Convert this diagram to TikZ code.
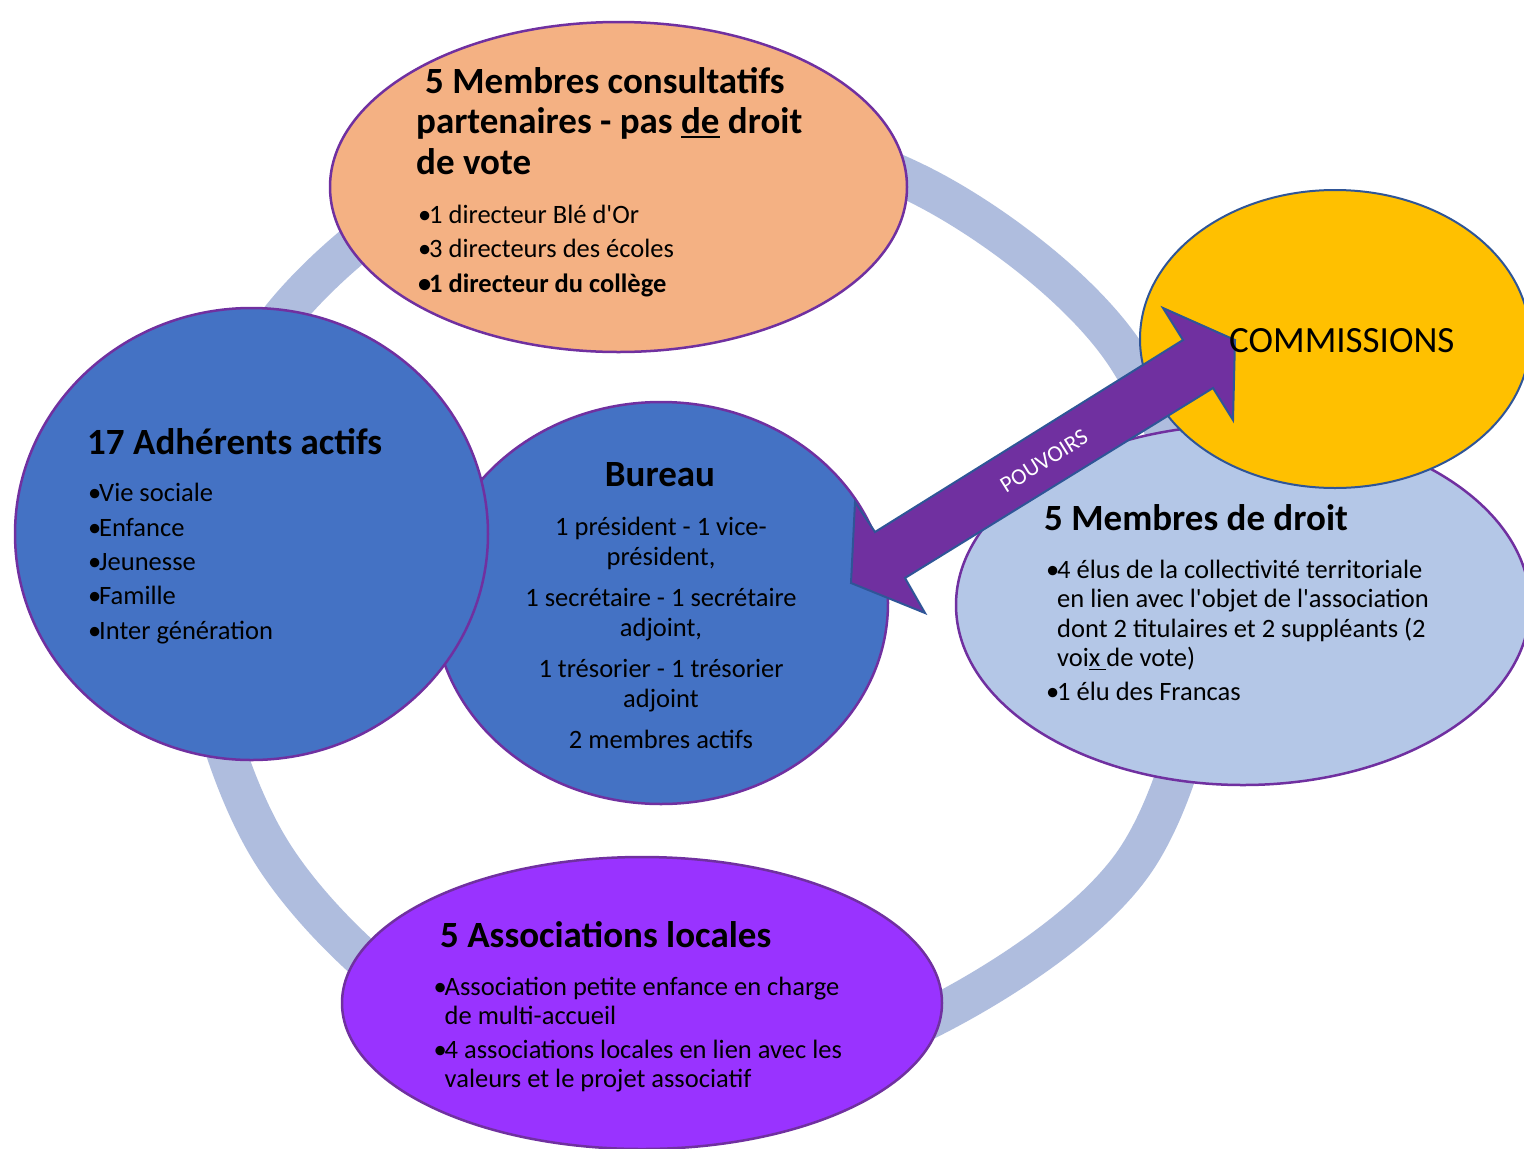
\documentclass[tikz,border=0pt]{standalone}
\usepackage{fontspec}
\setmainfont{Carlito}[Ligatures=TeXOff]
\usetikzlibrary{shapes.geometric}
\definecolor{ringc}{HTML}{AFBDDE}
\definecolor{orangec}{HTML}{F4B183}
\definecolor{bluec}{HTML}{4472C4}
\definecolor{lightbluec}{HTML}{B4C7E7}
\definecolor{yellowc}{HTML}{FFC000}
\definecolor{violetc}{HTML}{9933FF}
\definecolor{borderc}{HTML}{7030A0}
\definecolor{navyc}{HTML}{2F5597}
\newcommand\bul{\makebox[11pt][l]{•}}
\newcommand\myul[3]{\leavevmode\setbox0\hbox{#3}\rlap{\rule[-#1]{\wd0}{#2}}\box0\relax}
\begin{document}
\begin{tikzpicture}[x=1pt,y=-1pt,
  blob/.style={ellipse, draw=borderc, line width=2.5pt, inner sep=0pt},
  ttl/.style={font=\bfseries\fontsize{37}{40.5}\selectfont, align=left, inner sep=0pt},
  body/.style={font=\fontsize{26.5}{29.5}\selectfont, align=left, inner sep=0pt},
  bodyc/.style={font=\fontsize{26.5}{30}\selectfont, align=center, inner sep=0pt}]
\useasboundingbox (0,0) rectangle (1524,1149);
\fill[white] (0,0) rectangle (1524,1149);
% background ring
\draw[ringc, line width=40pt] plot[smooth cycle, tension=0.55] coordinates {
  (1206,603) (1137,858) (934.5,1016) (695,1084.4) (452,1023.9) (269.4,848.7)
  (197,603) (258.2,350.8) (450.5,179.5) (695,122.8) (932.6,191.5) (1125.4,354.5)};
% shapes
\node[blob, fill=orangec, minimum width=577pt, minimum height=330pt] (consult) at (618.5,187) {};
\node[blob, fill=bluec, minimum width=454pt, minimum height=402pt] (bureau) at (661,603) {};
\node[blob, fill=bluec, minimum width=473pt, minimum height=452pt] (adherents) at (251.5,534) {};
\node[blob, fill=lightbluec, minimum width=574pt, minimum height=360pt] (droit) at (1243,605) {};
\node[blob, draw=navyc, line width=2pt, fill=yellowc, minimum width=390pt, minimum height=298pt] (commissions) at (1335,339) {};
\node[blob, fill=violetc, minimum width=600pt, minimum height=292pt] (assoc) at (642,1003) {};
% double arrow
\draw[fill=borderc, draw=navyc, line width=2pt, line join=miter]
  (875,532) -- (1183,340) -- (1163,308) -- (1235,340) -- (1233,420) -- (1213,388)
  -- (905,578) -- (925,613) -- (851,583) -- (855,502) -- cycle;
\node[text=white, font=\fontsize{23}{25}\selectfont, rotate=32, inner sep=0pt] (pouv) at (1044,461) {POUVOIRS};
% texts (base anchor = baseline of last line)
\node[ttl, anchor=base west] (consultT) at (416,174) {\hspace*{9pt}5 Membres consultatifs\\partenaires - pas \myul{4.5pt}{2pt}{de} droit\\de vote};
\node[body, anchor=base west] (consultB) at (418,292) {\bul 1 directeur Blé d'Or\\[5pt]\bul 3 directeurs des écoles\\[5pt]\textbf{\bul 1 directeur du collège}};
\node[ttl, anchor=base west] (adhT) at (87,454) {17 Adhérents actifs};
\node[body, anchor=base west] (adhB) at (88,639) {\bul Vie sociale\\[4.8pt]\bul Enfance\\[4.8pt]\bul Jeunesse\\[4.8pt]\bul Famille\\[4.8pt]\bul Inter génération};
\node[ttl, anchor=base] (burT) at (660,486) {Bureau};
\node[bodyc, anchor=base] (burB) at (661,748) {1 président - 1 vice-\\président,\\[11pt]1 secrétaire - 1 secrétaire\\adjoint,\\[11pt]1 trésorier - 1 trésorier\\adjoint\\[11pt]2 membres actifs};
\node[ttl, anchor=base west] (droitT) at (1044,530) {5 Membres de droit};
\node[body, anchor=base west] (droitB) at (1046,700) {\bul 4 élus de la collectivité territoriale\\\hspace*{11pt}en lien avec l'objet de l'association\\\hspace*{11pt}dont 2 titulaires et 2 suppléants (2\\\hspace*{11pt}voi\myul{3.5pt}{1.5pt}{x\ }de vote)\\[4pt]\bul 1 élu des Francas};
\node[ttl, anchor=base west] (assocT) at (440,947) {5 Associations locales};
\node[body, font=\fontsize{26.5}{28.5}\selectfont, anchor=base west] (assocB) at (433.5,1087) {\bul Association petite enfance en charge\\\hspace*{11pt}de multi-accueil\\[6pt]\bul 4 associations locales en lien avec les\\\hspace*{11pt}valeurs et le projet associatif};
\node[font=\fontsize{37}{40}\selectfont, anchor=base west, inner sep=0pt] (commT) at (1229,352) {COMMISSIONS};
\end{tikzpicture}
\end{document}
